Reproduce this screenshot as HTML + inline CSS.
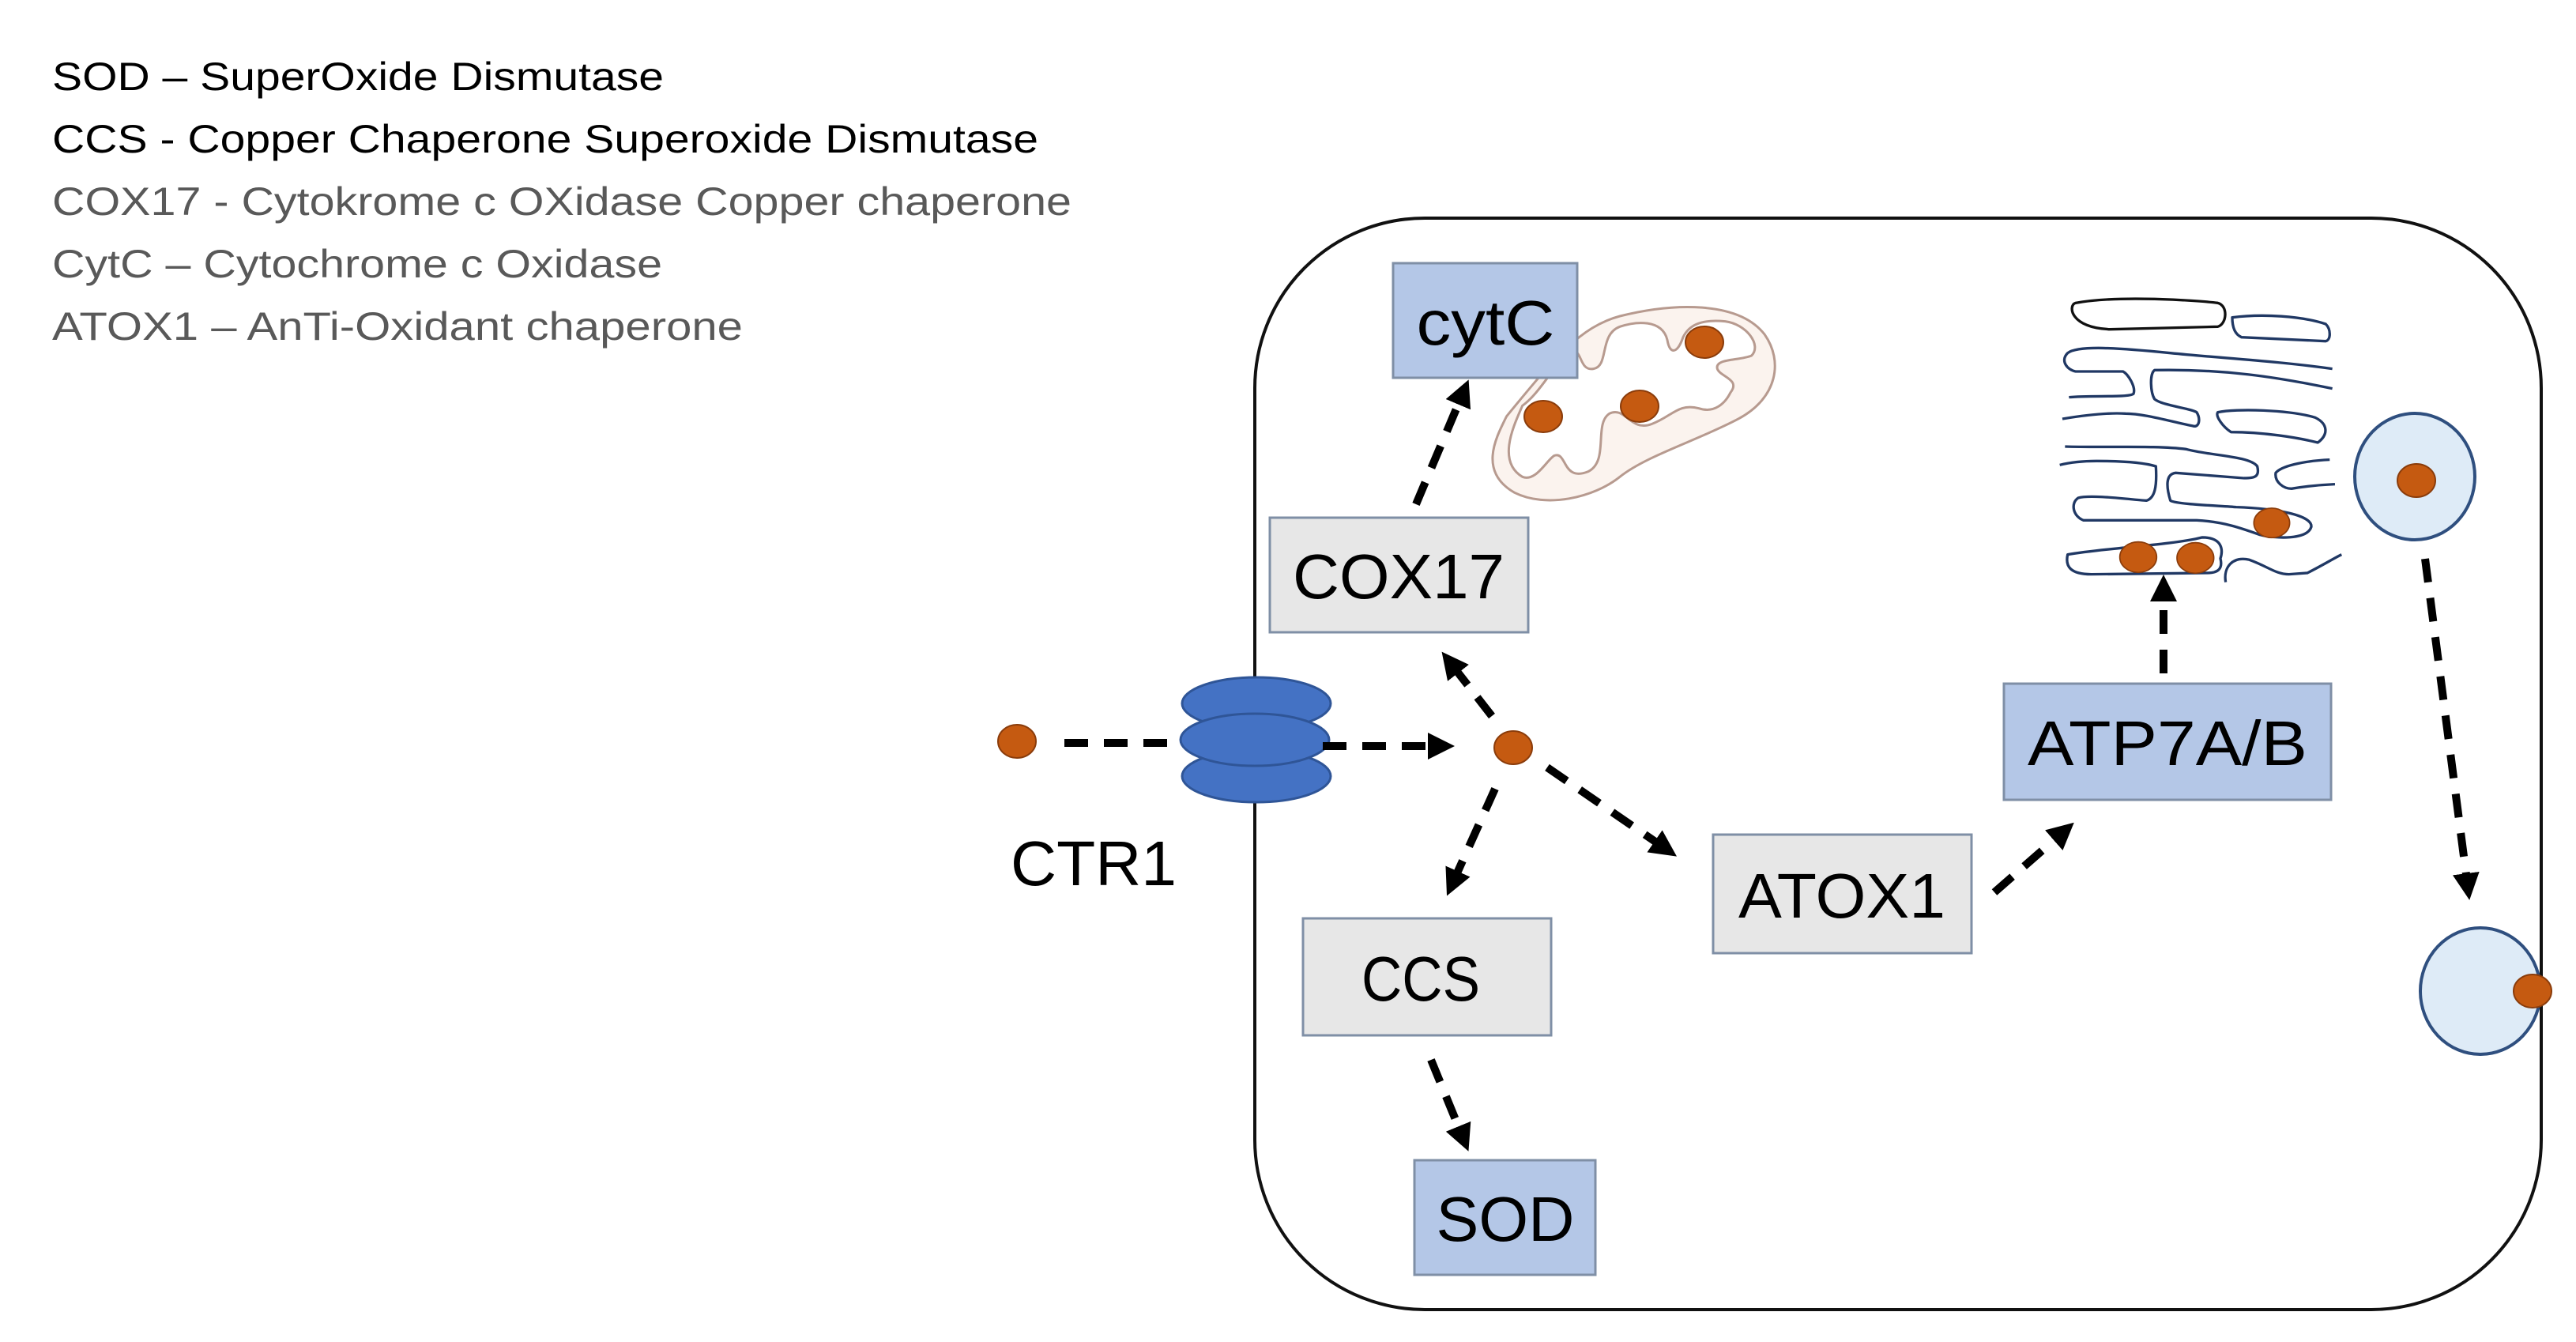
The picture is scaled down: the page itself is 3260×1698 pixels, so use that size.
<!DOCTYPE html>
<html><head><meta charset="utf-8"><style>html,body{margin:0;padding:0;background:#fff}svg{display:block}</style></head>
<body>
<svg width="3260" height="1698" viewBox="0 0 3260 1698" xmlns="http://www.w3.org/2000/svg">
<defs>
<marker id="ah" markerWidth="3.4" markerHeight="3.4" refX="1.7" refY="1.7" orient="auto" markerUnits="strokeWidth">
<path d="M0,0 L3.4,1.7 L0,3.4 Z" fill="#000"/>
</marker>
</defs>
<rect width="3260" height="1698" fill="#fff"/>
<g font-family="'Liberation Sans', sans-serif" font-size="50">
<text x="66" y="114" fill="#000" textLength="774" lengthAdjust="spacingAndGlyphs">SOD – SuperOxide Dismutase</text>
<text x="66" y="193" fill="#000" textLength="1248" lengthAdjust="spacingAndGlyphs">CCS - Copper Chaperone Superoxide Dismutase</text>
<text x="66" y="272" fill="#595959" textLength="1290" lengthAdjust="spacingAndGlyphs">COX17 - Cytokrome c OXidase Copper chaperone</text>
<text x="66" y="351" fill="#595959" textLength="772" lengthAdjust="spacingAndGlyphs">CytC – Cytochrome c Oxidase</text>
<text x="66" y="430" fill="#595959" textLength="874" lengthAdjust="spacingAndGlyphs">ATOX1 – AnTi-Oxidant chaperone</text>
</g>
<rect x="1588" y="276" width="1628" height="1381" rx="215" ry="215" fill="none" stroke="#111" stroke-width="4"/>
<g transform="translate(1850,370) scale(0.3333)" stroke="#b79a8f" stroke-width="9" fill="none">
<path d="M170,470 C130,550 60,680 200,760 C320,820 500,780 600,700 C700,620 900,560 1050,480 C1200,400 1220,260 1150,160 C1050,30 800,40 600,90 C450,130 350,250 170,470Z" fill="#fbf3ee"/>
<path d="M230,430 C200,500 130,640 230,700 C280,720 320,640 350,620 C400,600 380,720 480,680 C560,640 500,500 560,460 C620,430 640,530 720,500 C800,470 820,420 900,440 C960,460 1000,420 1020,380 C1060,330 980,320 970,290 C960,250 1050,260 1100,240 C1140,200 1080,120 1000,110 C900,100 860,130 840,170 C820,230 790,240 780,180 C760,100 660,110 600,130 C520,160 560,280 500,290 C440,300 460,200 410,230 C350,270 300,380 230,430Z" fill="#fff"/>
</g>
<g fill="#c55a11" stroke="#8a3c0b" stroke-width="2">
<ellipse cx="1953" cy="527" rx="24" ry="20"/>
<ellipse cx="2075" cy="514" rx="24" ry="20"/>
<ellipse cx="2157" cy="433" rx="24" ry="20"/>
</g>
<g transform="translate(2580,350) scale(0.3333)" stroke="#203864" stroke-width="10" fill="none" stroke-linejoin="round">
<path d="M140,100 C300,70 600,90 680,100 C720,110 715,180 680,190 L270,200 C120,195 110,110 140,100Z" stroke="#111"/>
<path d="M735,155 C850,140 1000,150 1090,180 C1110,200 1110,240 1090,245 L770,230 C735,215 735,170 735,155Z"/>
<path d="M1115,350 C900,320 700,310 500,290 C300,270 150,260 110,290 C80,320 110,355 140,360 L320,360 C340,370 370,420 360,445 C340,460 200,450 115,458"/>
<path d="M1115,425 C900,380 700,350 440,355 C420,370 425,440 440,465 C470,490 580,500 600,515 C615,540 610,570 590,568 C500,550 400,520 330,520 C250,515 150,530 90,540"/>
<path d="M680,515 C750,500 950,505 1050,535 C1100,560 1100,600 1060,630 C980,610 850,590 730,590 C700,570 670,530 680,515Z"/>
<path d="M100,645 C250,650 450,640 560,655 C650,680 800,680 830,720 C840,760 820,765 780,765 L520,745 C480,750 485,800 500,850 C520,865 700,870 750,875 C900,880 1040,905 1035,950 C1020,1000 900,995 840,980 C770,955 700,930 600,925 L170,925 C130,910 120,860 150,840 C200,825 380,850 410,850 C440,840 450,800 445,720 C380,700 250,700 220,700 C150,700 100,710 80,715"/>
<path d="M1105,695 C1000,700 920,720 900,745 C895,780 930,805 960,805 C1020,795 1080,790 1125,788"/>
<path d="M110,1055 C250,1030 500,1020 620,990 C700,990 700,1040 690,1070 C700,1110 680,1125 640,1125 L200,1130 C120,1130 100,1100 110,1055Z"/>
<path d="M710,1160 C700,1100 740,1060 800,1075 C870,1100 900,1130 950,1130 L1020,1125 C1070,1100 1120,1070 1150,1055"/>
<g fill="#c55a11" stroke="#8a3c0b" stroke-width="5">
<ellipse cx="885" cy="935" rx="68" ry="56"/>
<ellipse cx="378" cy="1065" rx="70" ry="58"/>
<ellipse cx="595" cy="1068" rx="70" ry="58"/>
</g>
</g>
<ellipse cx="3056" cy="603" rx="76" ry="80" fill="#deebf7" stroke="#2f4f7f" stroke-width="4"/>
<ellipse cx="3058" cy="608" rx="24" ry="21" fill="#c55a11" stroke="#8a3c0b" stroke-width="2"/>
<ellipse cx="3139" cy="1254" rx="76" ry="80" fill="#deebf7" stroke="#2f4f7f" stroke-width="4"/>
<ellipse cx="3205" cy="1254" rx="24" ry="21" fill="#c55a11" stroke="#8a3c0b" stroke-width="2"/>
<g fill="#4472c4" stroke="#2f5597" stroke-width="3">
<ellipse cx="1590" cy="982" rx="94" ry="33"/>
<ellipse cx="1590" cy="890" rx="94" ry="33"/>
<ellipse cx="1588" cy="936" rx="94" ry="33"/>
</g>
<text x="1279" y="1120" font-family="'Liberation Sans', sans-serif" font-size="80" textLength="210" lengthAdjust="spacingAndGlyphs">CTR1</text>
<ellipse cx="1287" cy="938" rx="24" ry="21" fill="#c55a11" stroke="#8a3c0b" stroke-width="2"/>
<ellipse cx="1915" cy="946" rx="24" ry="21" fill="#c55a11" stroke="#8a3c0b" stroke-width="2"/>
<g stroke="#000" stroke-width="10" stroke-dasharray="30,20" fill="none">
<line x1="1347" y1="940" x2="1497" y2="940"/>
<line x1="1674" y1="944" x2="1824" y2="944" marker-end="url(#ah)"/>
<line x1="1888" y1="906" x2="1835" y2="838" marker-end="url(#ah)"/>
<line x1="1958" y1="971" x2="2108" y2="1074" marker-end="url(#ah)"/>
<line x1="1892" y1="998" x2="1838" y2="1118" marker-end="url(#ah)"/>
<line x1="1792" y1="638" x2="1852" y2="496" marker-end="url(#ah)"/>
<line x1="1811" y1="1341" x2="1852" y2="1441" marker-end="url(#ah)"/>
<line x1="2524" y1="1129" x2="2612" y2="1052" marker-end="url(#ah)"/>
<line x1="2738" y1="852" x2="2738" y2="744" marker-end="url(#ah)"/>
<line x1="3069" y1="707" x2="3123" y2="1122" marker-end="url(#ah)"/>
</g>
<g stroke="#7f8fa6" stroke-width="3" font-family="'Liberation Sans', sans-serif" font-size="80" text-anchor="middle">
<rect x="1763" y="333" width="233" height="145" fill="#b4c7e7"/>
<rect x="1607" y="655" width="327" height="145" fill="#e7e7e7"/>
<rect x="1649" y="1162" width="314" height="148" fill="#e7e7e7"/>
<rect x="1790" y="1468" width="229" height="145" fill="#b4c7e7"/>
<rect x="2168" y="1056" width="327" height="150" fill="#e7e7e7"/>
<rect x="2536" y="865" width="414" height="147" fill="#b4c7e7"/>
<g stroke="none" fill="#000">
<text x="1880" y="436" textLength="175" lengthAdjust="spacingAndGlyphs">cytC</text>
<text x="1770" y="757" textLength="268" lengthAdjust="spacingAndGlyphs">COX17</text>
<text x="1798" y="1266" textLength="150" lengthAdjust="spacingAndGlyphs">CCS</text>
<text x="1905" y="1570" textLength="175" lengthAdjust="spacingAndGlyphs">SOD</text>
<text x="2331" y="1161" textLength="262" lengthAdjust="spacingAndGlyphs">ATOX1</text>
<text x="2743" y="968" textLength="354" lengthAdjust="spacingAndGlyphs">ATP7A/B</text>
</g>
</g>
</svg>
</body></html>
